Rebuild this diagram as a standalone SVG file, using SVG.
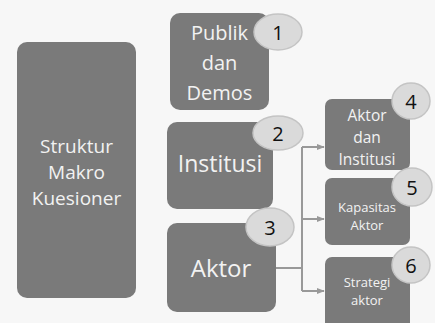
<svg xmlns="http://www.w3.org/2000/svg" width="435" height="323" viewBox="0 0 435 323">
<defs>
<style>
.box{fill:#7a7a7a;}
.t{font-family:"Open Sans","Liberation Sans",sans-serif;fill:#f2f2f2;text-anchor:middle;}
.c{fill:#dadada;stroke:#c4c4c4;stroke-width:1.5;}
.n{font-family:"Open Sans","Liberation Sans",sans-serif;font-size:20px;fill:#111;text-anchor:middle;}
.ln{fill:none;stroke:#999;stroke-width:2;}
</style>
<marker id="ah" viewBox="0 0 10 10" refX="9" refY="5" markerWidth="4" markerHeight="4" orient="auto" markerUnits="strokeWidth">
<path d="M0,1 L10,5 L0,9 z" fill="#999"/>
</marker>
</defs>
<rect width="435" height="323" fill="#f7f7f7"/>
<g id="connectors">
<path class="ln" d="M276,268 H302"/>
<path class="ln" d="M302,147 V291"/>
<path class="ln" d="M302,147 H324" marker-end="url(#ah)"/>
<path class="ln" d="M302,219 H324" marker-end="url(#ah)"/>
<path class="ln" d="M302,291 H324" marker-end="url(#ah)"/>
</g>
<g id="struktur">
<rect class="box" x="17" y="42" width="119" height="256" rx="10"/>
<text class="t" font-size="19" x="76.5" y="153">Struktur</text>
<text class="t" font-size="19" x="76.5" y="179">Makro</text>
<text class="t" font-size="19" x="76.5" y="205">Kuesioner</text>
</g>
<g id="publik">
<rect class="box" x="170" y="13" width="99" height="97" rx="10"/>
<text class="t" font-size="20" x="219.5" y="40">Publik</text>
<text class="t" font-size="20" x="219.5" y="70">dan</text>
<text class="t" font-size="20" x="219.5" y="100">Demos</text>
<ellipse class="c" cx="278" cy="32" rx="24" ry="18"/>
<text class="n" x="278" y="40">1</text>
</g>
<g id="institusi">
<rect class="box" x="167" y="122" width="106" height="87" rx="10"/>
<text class="t" font-size="23" x="220" y="172">Institusi</text>
<ellipse class="c" cx="278" cy="133" rx="25" ry="17"/>
<text class="n" x="278" y="141">2</text>
</g>
<g id="aktor">
<rect class="box" x="167" y="223" width="109" height="89" rx="10"/>
<text class="t" font-size="24" x="221" y="277">Aktor</text>
<ellipse class="c" cx="270" cy="227" rx="24" ry="19"/>
<text class="n" x="270" y="235">3</text>
</g>
<g id="aktor-institusi">
<rect class="box" x="325" y="99" width="85" height="71" rx="7"/>
<text class="t" font-size="15.5" x="367" y="121">Aktor</text>
<text class="t" font-size="15.5" x="367" y="143">dan</text>
<text class="t" font-size="15.5" x="367" y="165">Institusi</text>
<ellipse class="c" cx="411" cy="101" rx="19" ry="18"/>
<text class="n" x="411" y="109">4</text>
</g>
<g id="kapasitas">
<rect class="box" x="325" y="178" width="85" height="67" rx="7"/>
<text class="t" font-size="13" x="367" y="212">Kapasitas</text>
<text class="t" font-size="13" x="367" y="230">Aktor</text>
<ellipse class="c" cx="412" cy="187" rx="20" ry="19"/>
<text class="n" x="412" y="195">5</text>
</g>
<g id="strategi">
<rect class="box" x="325" y="257" width="85" height="75" rx="7"/>
<text class="t" font-size="13" x="367" y="287">Strategi</text>
<text class="t" font-size="13" x="367" y="305">aktor</text>
<ellipse class="c" cx="411" cy="265" rx="19" ry="18"/>
<text class="n" x="411" y="273">6</text>
</g>
</svg>
